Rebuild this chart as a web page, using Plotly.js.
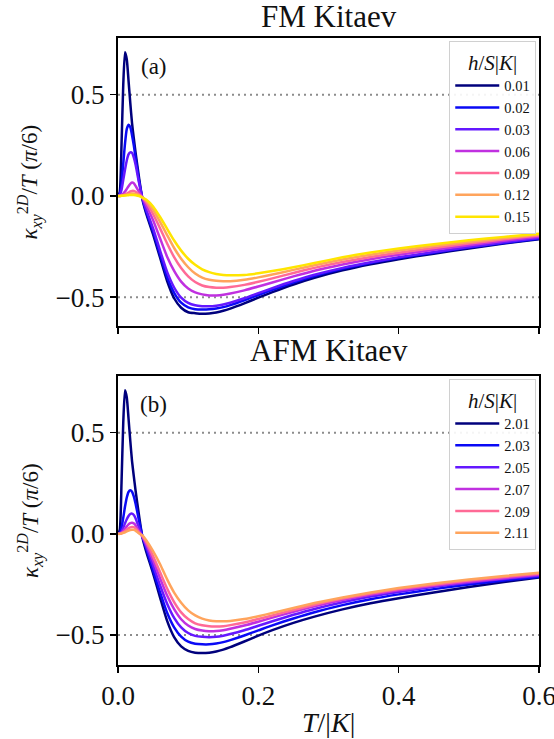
<!DOCTYPE html>
<html><head><meta charset="utf-8">
<script src="https://cdn.plot.ly/plotly-3.0.1.min.js"></script>
<style>html,body{margin:0;padding:0;background:#fff}</style>
</head><body><div id="chart" style="width:554px;height:739px"></div>
<script>
// Temperature grid T/|K|
const T = [0,0.0025,0.005,0.0075,0.01,0.0125,0.015,0.0175,0.02,0.0225,0.025,0.03,0.035,0.04,0.05,0.06,0.07,0.08,0.09,0.1,0.11,0.12,0.13,0.14,0.15,0.16,0.18,0.2,0.22,0.25,0.28,0.32,0.36,0.4,0.45,0.5,0.55,0.6];

// (a) FM Kitaev
const fmLabels = ['0.01','0.02','0.03','0.06','0.09','0.12','0.15'];
const fm_001 = [0,0.02,0.25,0.55,0.71,0.675,0.57,0.46,0.36,0.285,0.215,0.09,-0.02,-0.085,-0.19,-0.305,-0.42,-0.505,-0.552,-0.574,-0.579,-0.582,-0.58,-0.575,-0.567,-0.556,-0.53,-0.502,-0.475,-0.437,-0.404,-0.367,-0.337,-0.312,-0.285,-0.259,-0.235,-0.214];
const fm_002 = [0,0.01,0.06,0.16,0.26,0.33,0.352,0.34,0.3,0.25,0.19,0.075,-0.015,-0.075,-0.175,-0.29,-0.4,-0.478,-0.527,-0.55,-0.559,-0.561,-0.56,-0.556,-0.549,-0.539,-0.515,-0.489,-0.463,-0.427,-0.395,-0.36,-0.331,-0.307,-0.28,-0.255,-0.232,-0.211];
const fm_003 = [0,0.005,0.03,0.08,0.13,0.175,0.205,0.215,0.213,0.19,0.155,0.065,-0.012,-0.065,-0.16,-0.27,-0.375,-0.452,-0.502,-0.528,-0.54,-0.544,-0.545,-0.542,-0.536,-0.527,-0.505,-0.48,-0.455,-0.42,-0.389,-0.355,-0.327,-0.303,-0.277,-0.252,-0.229,-0.208];
const fm_006 = [0,0.001,0.005,0.012,0.022,0.035,0.048,0.06,0.066,0.063,0.05,0.02,-0.01,-0.045,-0.12,-0.21,-0.3,-0.37,-0.423,-0.457,-0.476,-0.486,-0.491,-0.491,-0.488,-0.482,-0.466,-0.447,-0.427,-0.397,-0.369,-0.338,-0.312,-0.29,-0.266,-0.243,-0.221,-0.201];
const fm_009 = [0,0,0.002,0.004,0.008,0.012,0.017,0.022,0.025,0.025,0.021,0.008,-0.008,-0.03,-0.09,-0.16,-0.235,-0.302,-0.356,-0.397,-0.425,-0.442,-0.45,-0.453,-0.453,-0.45,-0.439,-0.424,-0.407,-0.38,-0.355,-0.326,-0.301,-0.28,-0.257,-0.235,-0.214,-0.195];
const fm_012 = [0,0,0.001,0.002,0.004,0.006,0.008,0.01,0.012,0.012,0.01,0.003,-0.008,-0.022,-0.068,-0.128,-0.193,-0.257,-0.31,-0.352,-0.383,-0.403,-0.414,-0.419,-0.421,-0.421,-0.414,-0.402,-0.388,-0.365,-0.342,-0.314,-0.29,-0.269,-0.247,-0.227,-0.208,-0.19];
const fm_015 = [0,0,0.0005,0.001,0.002,0.003,0.004,0.005,0.005,0.005,0.004,0,-0.008,-0.018,-0.052,-0.104,-0.162,-0.22,-0.27,-0.31,-0.34,-0.362,-0.376,-0.385,-0.39,-0.392,-0.39,-0.382,-0.371,-0.352,-0.331,-0.303,-0.279,-0.259,-0.238,-0.219,-0.202,-0.186];

// (b) AFM Kitaev
const afmLabels = ['2.01','2.03','2.05','2.07','2.09','2.11'];
const afm_201 = [0,0.02,0.25,0.55,0.71,0.675,0.57,0.46,0.36,0.285,0.215,0.09,-0.02,-0.085,-0.195,-0.315,-0.43,-0.51,-0.556,-0.578,-0.587,-0.589,-0.587,-0.581,-0.572,-0.56,-0.532,-0.503,-0.476,-0.44,-0.409,-0.373,-0.343,-0.318,-0.29,-0.263,-0.238,-0.215];
const afm_203 = [0,0.005,0.03,0.08,0.135,0.18,0.207,0.215,0.208,0.185,0.15,0.065,-0.015,-0.07,-0.18,-0.29,-0.39,-0.462,-0.508,-0.533,-0.543,-0.546,-0.546,-0.542,-0.535,-0.525,-0.502,-0.477,-0.452,-0.418,-0.387,-0.352,-0.323,-0.299,-0.273,-0.25,-0.23,-0.212];
const afm_205 = [0,0.002,0.012,0.03,0.052,0.072,0.088,0.098,0.1,0.093,0.077,0.03,-0.015,-0.06,-0.155,-0.255,-0.345,-0.415,-0.462,-0.49,-0.504,-0.509,-0.511,-0.509,-0.503,-0.495,-0.476,-0.454,-0.432,-0.4,-0.371,-0.338,-0.31,-0.287,-0.262,-0.241,-0.223,-0.207];
const afm_207 = [0,0.001,0.006,0.015,0.026,0.037,0.047,0.053,0.055,0.052,0.043,0.012,-0.015,-0.05,-0.13,-0.22,-0.305,-0.372,-0.422,-0.453,-0.47,-0.478,-0.481,-0.48,-0.476,-0.469,-0.453,-0.434,-0.414,-0.385,-0.358,-0.327,-0.301,-0.279,-0.256,-0.237,-0.219,-0.202];
const afm_209 = [0,0.0005,0.003,0.008,0.014,0.021,0.027,0.032,0.034,0.033,0.027,0.006,-0.012,-0.04,-0.11,-0.19,-0.27,-0.337,-0.388,-0.421,-0.442,-0.452,-0.457,-0.458,-0.456,-0.451,-0.438,-0.421,-0.403,-0.376,-0.35,-0.32,-0.295,-0.273,-0.251,-0.231,-0.213,-0.197];
const afm_211 = [0,0,0.002,0.005,0.008,0.012,0.016,0.019,0.02,0.02,0.016,0.002,-0.008,-0.03,-0.085,-0.15,-0.225,-0.29,-0.34,-0.378,-0.403,-0.419,-0.428,-0.432,-0.432,-0.43,-0.421,-0.407,-0.391,-0.366,-0.342,-0.314,-0.29,-0.268,-0.245,-0.225,-0.208,-0.192];

const refLevels = [0.5, -0.5];
const xTicks = [0, 0.2, 0.4, 0.6];
const yTicks = [-0.5, 0, 0.5];

const colors = ['#00007c','#0a0af5','#6418ff','#c030e0','#ff6a96','#ffa45c','#ffe500'];
const FONT = 'Liberation Serif, Times New Roman, serif';

const fmSeries = [fm_001, fm_002, fm_003, fm_006, fm_009, fm_012, fm_015];
const afmSeries = [afm_201, afm_203, afm_205, afm_207, afm_209, afm_211];

const traces = [];
fmSeries.forEach((s, i) => traces.push({
  x: T, y: s, type: 'scatter', mode: 'lines', name: fmLabels[i],
  line: {color: colors[i], width: 2.5, shape: 'spline', smoothing: 0.6},
  xaxis: 'x', yaxis: 'y', legend: 'legend'
}));
afmSeries.forEach((s, i) => traces.push({
  x: T, y: s, type: 'scatter', mode: 'lines', name: afmLabels[i],
  line: {color: colors[i], width: 2.5, shape: 'spline', smoothing: 0.6},
  xaxis: 'x2', yaxis: 'y2', legend: 'legend2'
}));

const shapes = [];
[['x','y'],['x2','y2']].forEach(([xa, ya]) => refLevels.forEach(v => shapes.push({
  type: 'line', xref: xa + ' domain', yref: ya, x0: 0, x1: 1, y0: v, y1: v,
  line: {color: '#8c8c8c', width: 2, dash: '2px,4px'}, layer: 'below'
})));

const axisCommon = {
  showgrid: false, zeroline: false, showline: true, linecolor: '#000', linewidth: 2,
  mirror: true, ticks: 'outside', ticklen: 6, tickwidth: 1.5, tickcolor: '#000',
  tickfont: {family: FONT, size: 27, color: '#111'}, ticklabeloverflow: 'allow'
};
const legendCommon = {
  xanchor: 'right', yanchor: 'top', bgcolor: 'rgba(255,255,255,0.9)',
  bordercolor: '#d0d0d0', borderwidth: 1.2, itemwidth: 44,
  font: {family: FONT, size: 14.5, color: '#111'},
  title: {text: '<i>h</i>/<i>S</i>|<i>K</i>|', font: {family: FONT, size: 21, color: '#111'}, side: 'top center'},
  tracegroupgap: 0
};
const ytitle = '<i>κ</i><sub><i>xy</i></sub><sup>2<i>D</i></sup>/<i>T</i> (<i>π</i>/6)';
const annFont = (s) => ({family: FONT, size: s, color: '#111'});

const layout = {
  width: 554, height: 739,
  margin: {l: 118, r: 15, t: 38, b: 74},
  paper_bgcolor: '#fff', plot_bgcolor: '#fff',
  font: {family: FONT, color: '#111'},
  showlegend: true,
  xaxis: Object.assign({}, axisCommon, {domain: [0,1], anchor: 'y', range: [0, 0.6], tickvals: xTicks, showticklabels: false}),
  yaxis: Object.assign({}, axisCommon, {domain: [0.5407, 1], anchor: 'x', range: [-0.642, 0.78], tickvals: yTicks, tickformat: '.1f'}),
  xaxis2: Object.assign({}, axisCommon, {domain: [0,1], anchor: 'y2', range: [0, 0.6], tickvals: xTicks, tickformat: '.1f'}),
  yaxis2: Object.assign({}, axisCommon, {domain: [0, 0.4609], anchor: 'x2', range: [-0.648, 0.78], tickvals: yTicks, tickformat: '.1f'}),
  legend: Object.assign({}, legendCommon, {x: 0.993, y: 0.995}),
  legend2: Object.assign({}, legendCommon, {x: 0.993, y: 0.456}),
  shapes: shapes,
  annotations: [
    {text: 'FM Kitaev', xref: 'paper', yref: 'paper', x: 0.5, y: 1.035, xanchor: 'center', yanchor: 'middle', showarrow: false, font: annFont(31)},
    {text: 'AFM Kitaev', xref: 'paper', yref: 'paper', x: 0.5, y: 0.501, xanchor: 'center', yanchor: 'middle', showarrow: false, font: annFont(31)},
    {text: '(a)', xref: 'x domain', yref: 'y domain', x: 0.085, y: 0.9, xanchor: 'center', yanchor: 'middle', showarrow: false, font: annFont(23)},
    {text: '(b)', xref: 'x2 domain', yref: 'y2 domain', x: 0.085, y: 0.9, xanchor: 'center', yanchor: 'middle', showarrow: false, font: annFont(23)},
    {text: ytitle, xref: 'paper', yref: 'y domain', x: -0.21, y: 0.5, xanchor: 'center', yanchor: 'middle', textangle: -90, showarrow: false, font: annFont(23)},
    {text: ytitle, xref: 'paper', yref: 'y2 domain', x: -0.21, y: 0.5, xanchor: 'center', yanchor: 'middle', textangle: -90, showarrow: false, font: annFont(23)},
    {text: '<i>T</i>/|<i>K</i>|', xref: 'paper', yref: 'paper', x: 0.5, y: -0.092, xanchor: 'center', yanchor: 'middle', showarrow: false, font: annFont(28)}
  ]
};

Plotly.newPlot('chart', traces, layout, {displayModeBar: false, staticPlot: true});
</script>
</body></html>
